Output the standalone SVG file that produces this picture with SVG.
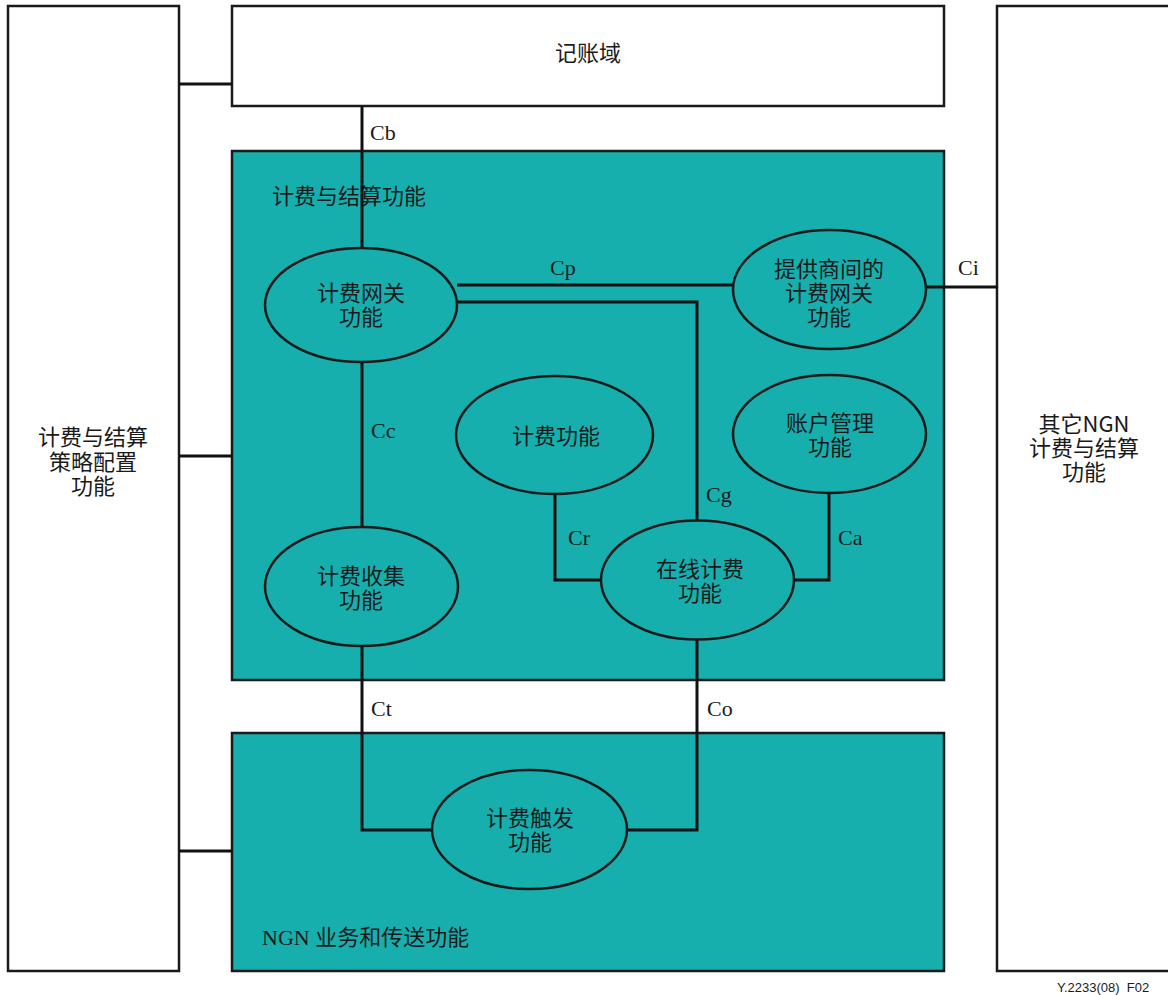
<svg xmlns="http://www.w3.org/2000/svg" width="1168" height="995" viewBox="0 0 1168 995">
<style>
.box{fill:#fff;stroke:#1a1a1a;stroke-width:2.5}
.teal{fill:#17aeae;stroke:#1a1a1a;stroke-width:2.5}
.ell{fill:#17aeae;stroke:#1a1a1a;stroke-width:2.5}
.ln{fill:none;stroke:#111;stroke-width:3}
.cj{font-family:"Noto Sans CJK SC","Liberation Serif",serif;font-size:22px;fill:#1a1a1a;text-anchor:middle}
.cl{font-family:"Liberation Serif","Noto Sans CJK SC",serif;font-size:22px;fill:#1a1a1a}
.tl{font-family:"Liberation Serif","Noto Sans CJK SC",serif;font-size:22px;fill:#1a1a1a}
</style>
<rect width="1168" height="995" fill="#fff"/>
<g id="policy">
<rect class="box" x="8" y="6" width="171" height="965"/>
<text class="cj" x="93" y="445">计费与结算</text>
<text class="cj" x="93" y="470">策略配置</text>
<text class="cj" x="93" y="494">功能</text>
</g>
<g id="accounting">
<rect class="box" x="232" y="6" width="712" height="100"/>
<text class="cj" x="588" y="61">记账域</text>
</g>
<g id="other-ngn">
<rect class="box" x="997" y="6" width="190" height="965"/>
<text class="cj" x="1084" y="432">其它NGN</text>
<text class="cj" x="1084" y="456">计费与结算</text>
<text class="cj" x="1084" y="480">功能</text>
</g>
<g id="charging-settlement">
<rect class="teal" x="232" y="151" width="712" height="529"/>
<text class="cj" x="272" y="204" style="text-anchor:start">计费与结算功能</text>
</g>
<g id="ngn-service">
<rect class="teal" x="232" y="733" width="712" height="238"/>
<text class="tl" x="262" y="945">NGN <tspan font-family="Noto Sans CJK SC">业务和传送功能</tspan></text>
</g>
<g id="connectors">
<path class="ln" d="M179 84H232"/>
<path class="ln" d="M179 456H232"/>
<path class="ln" d="M179 851H232"/>
<path class="ln" d="M362 106V248"/>
<path class="ln" d="M457 285H733"/>
<path class="ln" d="M457 302H697V521"/>
<path class="ln" d="M926 287H998"/>
<path class="ln" d="M362 362V527"/>
<path class="ln" d="M555 494V580H601"/>
<path class="ln" d="M829 493V580H794"/>
<path class="ln" d="M362 646V830H432"/>
<path class="ln" d="M697 639V830H627"/>
<text class="cl" x="370" y="140">Cb</text>
<text class="cl" x="550" y="275">Cp</text>
<text class="cl" x="958" y="275">Ci</text>
<text class="cl" x="371" y="438">Cc</text>
<text class="cl" x="706" y="502">Cg</text>
<text class="cl" x="568" y="545">Cr</text>
<text class="cl" x="838" y="545">Ca</text>
<text class="cl" x="371" y="716">Ct</text>
<text class="cl" x="707" y="716">Co</text>
</g>
<g id="gateway">
<ellipse class="ell" cx="361" cy="305" rx="96" ry="57"/>
<text class="cj" x="361" y="301">计费网关</text>
<text class="cj" x="361" y="325">功能</text>
</g>
<g id="inter-provider">
<ellipse class="ell" cx="829.5" cy="289.5" rx="96.5" ry="59.5"/>
<text class="cj" x="829" y="277">提供商间的</text>
<text class="cj" x="829" y="301">计费网关</text>
<text class="cj" x="829" y="325">功能</text>
</g>
<g id="rating">
<ellipse class="ell" cx="554.5" cy="435" rx="98.5" ry="59"/>
<text class="cj" x="556" y="444">计费功能</text>
</g>
<g id="account-mgmt">
<ellipse class="ell" cx="829.5" cy="434" rx="96.5" ry="59"/>
<text class="cj" x="830" y="431">账户管理</text>
<text class="cj" x="830" y="455">功能</text>
</g>
<g id="collection">
<ellipse class="ell" cx="361.5" cy="586.5" rx="96.5" ry="59.5"/>
<text class="cj" x="361" y="584">计费收集</text>
<text class="cj" x="361" y="608">功能</text>
</g>
<g id="online">
<ellipse class="ell" cx="697.5" cy="580" rx="96.5" ry="59.5"/>
<text class="cj" x="700" y="577">在线计费</text>
<text class="cj" x="700" y="601">功能</text>
</g>
<g id="trigger">
<ellipse class="ell" cx="529.5" cy="829.5" rx="97.5" ry="59.5"/>
<text class="cj" x="530" y="826">计费触发</text>
<text class="cj" x="530" y="850">功能</text>
</g>
<text x="1057" y="992" font-family="Liberation Sans, sans-serif" font-size="13" fill="#1a1a1a" xml:space="preserve">Y.2233(08)  F02</text>
</svg>
